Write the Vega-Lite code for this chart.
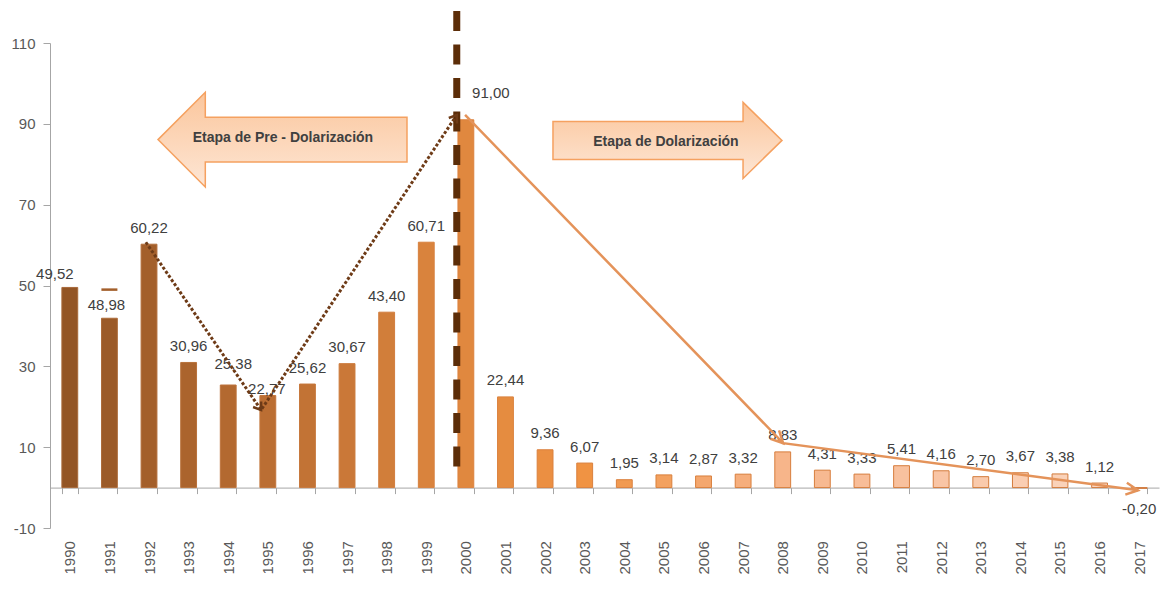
{
  "$schema": "https://vega.github.io/schema/vega-lite/v6.json",
  "width": 1109,
  "height": 485,
  "autosize": {"type": "none"},
  "padding": {"left": 50, "top": 43, "right": 12, "bottom": 66},
  "background": "white",
  "config": {
    "view": {"stroke": null},
    "font": "Liberation Sans, Arial, sans-serif",
    "locale": {"number": {"decimal": ",", "thousands": ".", "grouping": [3], "currency": ["", ""], "minus": "-"}},
    "axisY": {"grid": false, "tickSize": 7, "labelPadding": 8, "labelFontSize": 15, "labelColor": "#595959", "domainColor": "#a6a6a6", "tickColor": "#a6a6a6"}
  },
  "datasets": {
    "inflation": [
      {"year": 1990, "value": 49.52, "bar": 49.52},
      {"year": 1991, "value": 48.98, "bar": 41.9},
      {"year": 1992, "value": 60.22, "bar": 60.22},
      {"year": 1993, "value": 30.96, "bar": 30.96},
      {"year": 1994, "value": 25.38, "bar": 25.38},
      {"year": 1995, "value": 22.77, "bar": 22.77},
      {"year": 1996, "value": 25.62, "bar": 25.62},
      {"year": 1997, "value": 30.67, "bar": 30.67},
      {"year": 1998, "value": 43.40, "bar": 43.40},
      {"year": 1999, "value": 60.71, "bar": 60.71},
      {"year": 2000, "value": 91.00, "bar": 91.00},
      {"year": 2001, "value": 22.44, "bar": 22.44},
      {"year": 2002, "value": 9.36, "bar": 9.36},
      {"year": 2003, "value": 6.07, "bar": 6.07},
      {"year": 2004, "value": 1.95, "bar": 1.95},
      {"year": 2005, "value": 3.14, "bar": 3.14},
      {"year": 2006, "value": 2.87, "bar": 2.87},
      {"year": 2007, "value": 3.32, "bar": 3.32},
      {"year": 2008, "value": 8.83, "bar": 8.83},
      {"year": 2009, "value": 4.31, "bar": 4.31},
      {"year": 2010, "value": 3.33, "bar": 3.33},
      {"year": 2011, "value": 5.41, "bar": 5.41},
      {"year": 2012, "value": 4.16, "bar": 4.16},
      {"year": 2013, "value": 2.70, "bar": 2.70},
      {"year": 2014, "value": 3.67, "bar": 3.67},
      {"year": 2015, "value": 3.38, "bar": 3.38},
      {"year": 2016, "value": 1.12, "bar": 1.12},
      {"year": 2017, "value": -0.20, "bar": -0.20}
    ]
  },
  "resolve": {"scale": {"x": "independent"}},
  "layer": [
    {
      "data": {"name": "inflation"},
      "encoding": {
        "x": {
          "field": "year", "type": "ordinal",
          "scale": {"paddingInner": 0.6, "paddingOuter": 0.3},
          "axis": {
            "title": null, "labelAngle": -90, "labelFontSize": 15, "labelColor": "#595959",
            "labelPadding": 47, "tickBand": "extent", "tickSize": 6, "tickColor": "#a6a6a6",
            "domainColor": "#a6a6a6", "offset": -40.4, "grid": false
          }
        },
        "y": {
          "field": "bar", "type": "quantitative",
          "scale": {"domain": [-10, 110], "nice": false, "zero": false},
          "axis": {"title": null, "values": [-10, 10, 30, 50, 70, 90, 110], "format": "d"}
        }
      },
      "layer": [
        {
          "mark": {"type": "bar", "strokeWidth": 1, "opacity": 1},
          "encoding": {
            "fill": {
              "field": "year", "type": "quantitative", "legend": null,
              "scale": {"domain": [1990, 1995, 2000, 2003, 2008, 2017], "range": ["#935525", "#bb6e33", "#e0883f", "#f09343", "#f7b58a", "#fbdac7"], "interpolate": "rgb"}
            },
            "stroke": {
              "field": "year", "type": "quantitative", "legend": null,
              "scale": {"domain": [1990, 2000, 2017], "range": ["#a8693a", "#dc823e", "#d27a3c"], "interpolate": "rgb"}
            }
          }
        },
        {
          "transform": [{"filter": "datum.year === 1991"}],
          "mark": {"type": "tick", "color": "#a35f2b", "thickness": 2.5, "size": 16, "opacity": 1},
          "encoding": {"y": {"field": "value", "type": "quantitative", "scale": {"domain": [-10, 110], "nice": false, "zero": false}, "axis": {"title": null, "values": [-10, 10, 30, 50, 70, 90, 110], "format": "d"}}}
        },
        {
          "transform": [{"filter": "indexof([1990, 1991, 1994, 1995, 2000, 2017], datum.year) < 0"}],
          "mark": {"type": "text", "fontSize": 15, "color": "#404040", "baseline": "middle", "dy": -16.5},
          "encoding": {"text": {"field": "value", "type": "quantitative", "format": ".2f"}}
        },
        {
          "transform": [{"filter": "datum.year === 1990"}],
          "mark": {"type": "text", "fontSize": 15, "color": "#404040", "baseline": "middle", "dx": -15, "dy": -13},
          "encoding": {"text": {"field": "value", "type": "quantitative", "format": ".2f"}}
        },
        {
          "transform": [{"filter": "datum.year === 1991"}],
          "mark": {"type": "text", "fontSize": 15, "color": "#404040", "baseline": "middle", "dx": -3, "dy": -13},
          "encoding": {"text": {"field": "value", "type": "quantitative", "format": ".2f"}}
        },
        {
          "transform": [{"filter": "datum.year === 1994"}],
          "mark": {"type": "text", "fontSize": 15, "color": "#404040", "baseline": "middle", "dx": 5, "dy": -21},
          "encoding": {"text": {"field": "value", "type": "quantitative", "format": ".2f"}}
        },
        {
          "transform": [{"filter": "datum.year === 1995"}],
          "mark": {"type": "text", "fontSize": 15, "color": "#404040", "baseline": "middle", "dx": -1, "dy": -7},
          "encoding": {"text": {"field": "value", "type": "quantitative", "format": ".2f"}}
        },
        {
          "transform": [{"filter": "datum.year === 2000"}],
          "mark": {"type": "text", "fontSize": 15, "color": "#404040", "baseline": "middle", "dx": 25, "dy": -27},
          "encoding": {"text": {"field": "value", "type": "quantitative", "format": ".2f"}}
        },
        {
          "transform": [{"filter": "datum.year === 2017"}],
          "mark": {"type": "text", "fontSize": 15, "color": "#404040", "baseline": "middle", "dy": 21},
          "encoding": {"text": {"field": "value", "type": "quantitative", "format": ".2f"}}
        }
      ]
    },
    {
      "encoding": {
        "x": {"field": "x", "type": "quantitative", "scale": {"domain": [1989.5, 2017.5], "nice": false, "zero": false}, "axis": null},
        "y": {"field": "y", "type": "quantitative", "scale": {"domain": [-10, 110], "nice": false, "zero": false}, "axis": {"title": null, "values": [-10, 10, 30, 50, 70, 90, 110], "format": "d"}}
      },
      "layer": [
        {
          "data": {"values": [{"x": 1999.77, "y": 117.9, "y2": 4.1}]},
          "mark": {"type": "rule", "stroke": "#5c2d08", "strokeWidth": 7, "strokeDash": [20, 13.5]},
          "encoding": {"y2": {"field": "y2"}}
        },
        {
          "data": {"values": [{"x": 1991.92, "y": 60.7}, {"x": 1994.83, "y": 19.2}, {"x": 1999.77, "y": 92.2}]},
          "mark": {"type": "line", "stroke": "#6e3b17", "strokeWidth": 3, "strokeDash": [3, 2]}
        },
        {
          "data": {"values": [{"x": 1999.98, "y": 92.2}, {"x": 2008.01, "y": 11.0}, {"x": 2016.97, "y": -0.67}]},
          "mark": {"type": "line", "stroke": "#e4935a", "strokeWidth": 2.5}
        },
        {
          "data": {"values": [{"x": 1994.83, "y": 19.2}]},
          "mark": {"type": "point", "shape": "M -1 -0.7 L 0 0 L -1 0.7", "filled": false, "stroke": "#6e3b17", "strokeWidth": 2.5, "size": 196, "angle": 55.3, "opacity": 1}
        },
        {
          "data": {"values": [{"x": 1999.77, "y": 92.2}]},
          "mark": {"type": "point", "shape": "M -1 -0.7 L 0 0 L -1 0.7", "filled": false, "stroke": "#6e3b17", "strokeWidth": 2.5, "size": 196, "angle": -56.2, "opacity": 1}
        },
        {
          "data": {"values": [{"x": 2008.01, "y": 11.0}]},
          "mark": {"type": "point", "shape": "M -1 -0.5 L 0 0 L -1 0.5", "filled": false, "stroke": "#e4935a", "strokeWidth": 2.5, "size": 576, "angle": 45.7, "opacity": 1}
        },
        {
          "data": {"values": [{"x": 2016.97, "y": -0.67}]},
          "mark": {"type": "point", "shape": "M -1 -0.5 L 0 0 L -1 0.5", "filled": false, "stroke": "#e4935a", "strokeWidth": 2.5, "size": 576, "angle": 7.5, "opacity": 1}
        },
        {
          "data": {"values": [{"x": 1995.37, "y": 86.1}]},
          "mark": {
            "type": "point", "shape": "M -1 0 L -0.62 -0.38 L -0.62 -0.18 L 1 -0.18 L 1 0.18 L -0.62 0.18 L -0.62 0.38 Z",
            "size": 62001, "filled": true, "opacity": 1, "stroke": "#f5a160", "strokeWidth": 1.5,
            "fill": {"gradient": "linear", "x1": 0, "y1": 0, "x2": 0, "y2": 1, "stops": [{"offset": 0, "color": "#fbc69c"}, {"offset": 1, "color": "#fde6d5"}]}
          }
        },
        {
          "data": {"values": [{"x": 2005.09, "y": 85.9}]},
          "mark": {
            "type": "point", "shape": "M -1 -0.166 L 0.66 -0.166 L 0.66 -0.332 L 1 0 L 0.66 0.332 L 0.66 0.166 L -1 0.166 Z",
            "size": 52441, "filled": true, "opacity": 1, "stroke": "#f5a160", "strokeWidth": 1.5,
            "fill": {"gradient": "linear", "x1": 0, "y1": 0, "x2": 0, "y2": 1, "stops": [{"offset": 0, "color": "#fbc69c"}, {"offset": 1, "color": "#fde6d5"}]}
          }
        },
        {
          "data": {"values": [{"x": 1995.38, "y": 86.4, "label": "Etapa de Pre - Dolarización"}, {"x": 2005.05, "y": 85.6, "label": "Etapa de Dolarización"}]},
          "mark": {"type": "text", "fontSize": 14, "fontWeight": "bold", "color": "#404040", "baseline": "middle", "align": "center"},
          "encoding": {"text": {"field": "label"}}
        }
      ]
    }
  ]
}
